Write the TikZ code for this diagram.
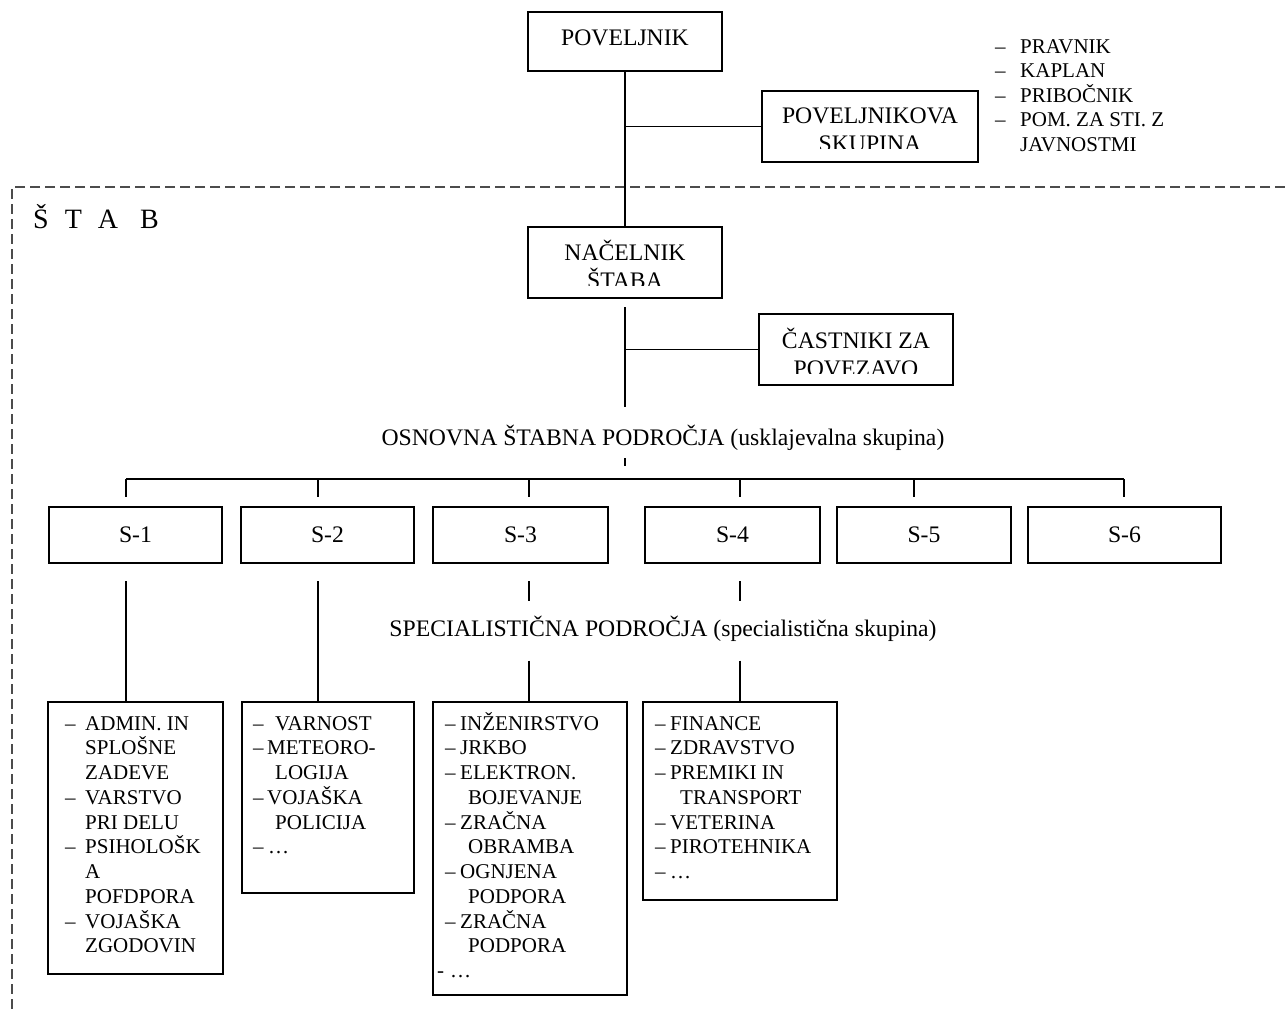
\documentclass[tikz,border=0pt]{standalone}
\usepackage{fontspec}
\setmainfont{Liberation Serif}
\usetikzlibrary{calc}
\begin{document}
\begin{tikzpicture}[x=1pt,y=-1pt,
  box/.style={draw, line width=2.6pt, inner sep=0pt},
  link/.style={line width=1.4pt},
  dashframe/.style={draw=black!70, line width=1.4pt, dash pattern=on 10pt off 5pt},
  lbl/.style={font=\fontsize{23.7}{26}\selectfont, inner sep=0pt, anchor=base},
  itm/.style={font=\fontsize{21}{24}\selectfont, inner sep=0pt, anchor=base west},
]
\useasboundingbox (0,0) rectangle (1285,1009);

% staff frame
\draw[dashframe] (1285,187) -- (12,187) -- (12,1009);
\node[anchor=base west, inner sep=0pt, font=\fontsize{28}{30}\selectfont] (stab) at (33,228)
  {Š\hspace{16pt}T\hspace{16pt}A\hspace{22pt}B};

% command level
\node[box, minimum width=194pt, minimum height=59pt] (pov) at (625,41.5) {};
\node[lbl] (povT) at (625,45) {POVELJNIK};

\node[box, minimum width=216pt, minimum height=71pt] (povsk) at (870,126.5) {};
\node[lbl] (povskA) at (870,123) {POVELJNIKOVA};
\node[lbl] (povskB) at (870,151) {SKUPINA};
\fill[white] (765,149) rectangle (975,159.8);

\node[box, minimum width=194pt, minimum height=71pt] (nac) at (625,262.5) {};
\node[lbl] (nacA) at (625,260) {NAČELNIK};
\node[lbl] (nacB) at (625,288) {ŠTABA};
\fill[white] (531,286) rectangle (719,296.7);

\node[box, minimum width=194pt, minimum height=71pt] (cast) at (856,349.5) {};
\node[lbl] (castA) at (856,348) {ČASTNIKI ZA};
\node[lbl] (castB) at (856,376) {POVEZAVO};
\fill[white] (762,374) rectangle (950,383.7);

% right-hand list
\foreach \d/\t [count=\i from 0] in {1/PRAVNIK, 1/KAPLAN, 1/PRIBOČNIK, 1/{POM. ZA STI. Z}, 0/JAVNOSTMI} {
  \node[itm] (pt\i) at (1020,{53+24.5*\i}) {\t};
  \ifnum\d=1 \node[itm] (pd\i) at (995,{53+24.5*\i}) {–}; \fi
}

% trunk
\draw[link] (pov.south) -- (nac.north);
\draw[link] (pov.south |- povsk.west) -- (povsk.west);
\coordinate (t1) at ($(nac.south)+(0,8)$);
\coordinate (t2) at (625,407);
\draw[link] (t1) -- (t2);
\draw[link] (t1 |- cast.west) -- (cast.west);

\node[lbl] (osn) at (663,445) {OSNOVNA ŠTABNA PODROČJA (usklajevalna skupina)};
\coordinate (k1) at (625,458);
\coordinate (k2) at (625,466);
\draw[link] (k1) -- (k2);

% staff sections
\node[box, minimum width=173pt, minimum height=56pt] (s1) at (135.5,535) {};
\node[box, minimum width=173pt, minimum height=56pt] (s2) at (327.5,535) {};
\node[box, minimum width=175pt, minimum height=56pt] (s3) at (520.5,535) {};
\node[box, minimum width=175pt, minimum height=56pt] (s4) at (732.5,535) {};
\node[box, minimum width=174pt, minimum height=56pt] (s5) at (924,535) {};
\node[box, minimum width=193pt, minimum height=56pt] (s6) at (1124.5,535) {};
\foreach \n in {1,...,6} {
  \node[lbl, anchor=center] (s\n t) at (s\n) {S-\n};
}

\coordinate (d1) at (126,479);
\coordinate (d2) at (318,479);
\coordinate (d3) at (529,479);
\coordinate (d4) at (740,479);
\coordinate (d5) at (914,479);
\coordinate (d6) at (1124,479);
\draw[link] (d1) -- (d6);
\foreach \n in {1,...,6} {
  \draw[link] (d\n) -- ($(d\n |- s\n.north)+(0,-9)$);
}

\node[lbl] (spec) at (663,636) {SPECIALISTIČNA PODROČJA (specialistična skupina)};

% specialist lists
\node[box, minimum width=175pt, minimum height=272pt] (l1) at (135.5,838) {};
\node[box, minimum width=172pt, minimum height=191pt] (l2) at (328,797.5) {};
\node[box, minimum width=194pt, minimum height=293pt] (l3) at (530,848.5) {};
\node[box, minimum width=194pt, minimum height=198pt] (l4) at (740,801) {};

\draw[link] ($(d1 |- s1.south)+(0,17)$) -- (d1 |- l1.north);
\draw[link] ($(d2 |- s2.south)+(0,17)$) -- (d2 |- l2.north);
\draw[link] ($(d3 |- s3.south)+(0,17)$) -- ++(0,20);
\draw[link] ($(d3 |- l3.north)+(0,-40)$) -- (d3 |- l3.north);
\draw[link] ($(d4 |- s4.south)+(0,17)$) -- ++(0,20);
\draw[link] ($(d4 |- l4.north)+(0,-40)$) -- (d4 |- l4.north);

\foreach \x/\d/\t [count=\i from 0] in {85/1/{ADMIN. IN}, 85/0/SPLOŠNE, 85/0/ZADEVE,
    85/1/VARSTVO, 85/0/{PRI DELU}, 85/1/PSIHOLOŠK, 85/0/A, 85/0/POFDPORA,
    85/1/VOJAŠKA, 85/0/ZGODOVIN} {
  \node[itm] (a\i) at (\x,{730+24.75*\i}) {\t};
  \ifnum\d=1 \node[itm] (ad\i) at (65,{730+24.75*\i}) {–}; \fi
}

\foreach \x/\d/\t [count=\i from 0] in {275/1/VARNOST, 267/1/METEORO-, 275/0/LOGIJA,
    267/1/VOJAŠKA, 275/0/POLICIJA, 268/1/…} {
  \node[itm] (b\i) at (\x,{730+24.75*\i}) {\t};
  \ifnum\d=1 \node[itm] (bd\i) at (253,{730+24.75*\i}) {–}; \fi
}

\foreach \x/\d/\t [count=\i from 0] in {460/1/INŽENIRSTVO, 460/1/JRKBO, 460/1/ELEKTRON.,
    468/0/BOJEVANJE, 460/1/ZRAČNA, 468/0/OBRAMBA, 460/1/OGNJENA, 468/0/PODPORA,
    460/1/ZRAČNA, 468/0/PODPORA, 450/0/…} {
  \node[itm] (c\i) at (\x,{730+24.75*\i}) {\t};
  \ifnum\d=1 \node[itm] (cd\i) at (445,{730+24.75*\i}) {–}; \fi
}
\node[itm] (cdh) at (437,{730+24.75*10}) {-};

\foreach \x/\d/\t [count=\i from 0] in {670/1/FINANCE, 670/1/ZDRAVSTVO, 670/1/{PREMIKI IN},
    680/0/TRANSPORT, 670/1/VETERINA, 670/1/PIROTEHNIKA, 670/1/…} {
  \node[itm] (e\i) at (\x,{730+24.75*\i}) {\t};
  \ifnum\d=1 \node[itm] (ed\i) at (655,{730+24.75*\i}) {–}; \fi
}
\end{tikzpicture}
\end{document}
